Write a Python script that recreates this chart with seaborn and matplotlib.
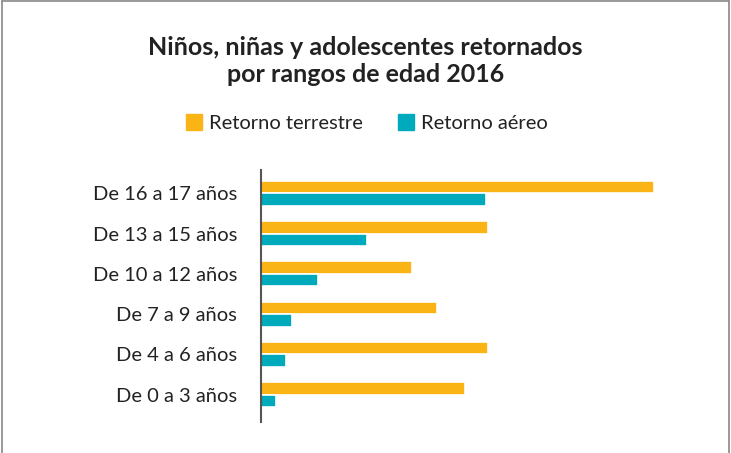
"""Niños, niñas y adolescentes retornados por rangos de edad 2016."""
import pandas as pd
import seaborn as sns
import matplotlib.pyplot as plt
from matplotlib.lines import Line2D

rangos = ['De 16 a 17 años', 'De 13 a 15 años', 'De 10 a 12 años',
          'De 7 a 9 años', 'De 4 a 6 años', 'De 0 a 3 años']
terrestre = [392, 227, 151, 176, 227, 204]
aereo = [225, 106, 57, 31, 25, 15]
series = ['Retorno terrestre', 'Retorno aéreo']
colores = ['#FBB416', '#00AABD']

df = pd.DataFrame({
    'rango': rangos * 2,
    'valor': terrestre + aereo,
    'tipo': [series[0]] * len(rangos) + [series[1]] * len(rangos),
})

sns.set_style('white')
plt.rcParams['font.family'] = ['Lato', 'DejaVu Sans']

fig = plt.figure(figsize=(7.31, 4.53), dpi=100)
ax = fig.add_axes([0.357, 0.068, 0.603, 0.557])

sns.barplot(data=df, y='rango', x='valor', hue='tipo', orient='h',
            palette=colores, saturation=1, width=0.62, edgecolor='white',
            linewidth=1.2, ax=ax, legend=False)

ax.set_xlim(0, 440)
ax.set_ylim(5.68, -0.58)
ax.set_xlabel('')
ax.set_ylabel('')
ax.set_xticks([])
ax.tick_params(axis='y', length=0, pad=17, labelsize=14.5, labelcolor='#222222')
for side in ['top', 'right', 'bottom']:
    ax.spines[side].set_visible(False)
ax.spines['left'].set_color('#555555')
ax.spines['left'].set_linewidth(1.5)

fig.text(0.5, 0.865, 'Niños, niñas y adolescentes retornados\npor rangos de edad 2016',
         ha='center', va='center', fontsize=18, fontweight='bold',
         color='#222222', linespacing=1.2)

handles = [Line2D([], [], marker='s', linestyle='', markersize=11,
                  markerfacecolor=c, markeredgecolor=c) for c in colores]
fig.legend(handles, series, loc='center', bbox_to_anchor=(0.5, 0.728),
           ncol=2, frameon=False, fontsize=14.5, handletextpad=0.2,
           handlelength=1.1, columnspacing=1.6, labelcolor='#222222')

# marco gris
for xs, ys in [([0.003, 0.003], [0, 0.998]), ([0.003, 0.997], [0.998, 0.998]),
               ([0.997, 0.997], [0, 0.998])]:
    fig.add_artist(Line2D(xs, ys, color='#888888', linewidth=1.2,
                          transform=fig.transFigure))

plt.savefig('out.png', dpi=100)
